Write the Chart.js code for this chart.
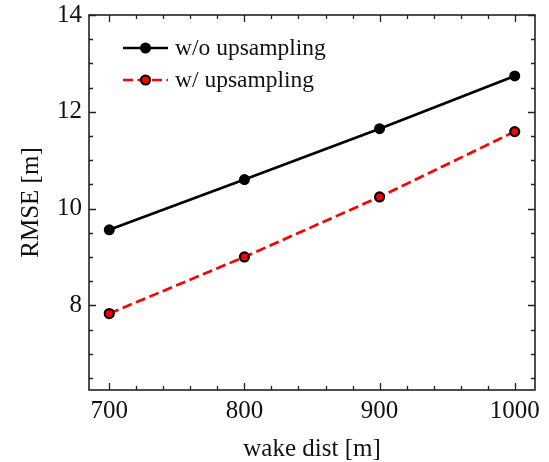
<!DOCTYPE html>
<html>
<head>
<meta charset="utf-8">
<script src="https://cdn.jsdelivr.net/npm/chart.js@4"></script>
<style>
  body { margin: 0; background: #fff; }
  #wrap { width: 549px; height: 462px; }
</style>
</head>
<body>
<div id="wrap"><canvas id="c" width="549" height="462"></canvas></div>
<script>
const wakeDist = [700, 800, 900, 1000];
const rmseNoUp = [9.56, 10.60, 11.65, 12.74];
const rmseUp = [7.83, 9.00, 10.24, 11.59];
const xTicks = [700, 800, 900, 1000];
const yTicks = [8, 10, 12, 14];
const seriesNames = ['w/o upsampling', 'w/ upsampling'];

const FONT = "'Liberation Serif', 'Times New Roman', serif";
const AXIS = '#222';

// inward ticks on all four sides + frame, and the legend with line+marker samples
const frameTicks = {
  id: 'frameTicks',
  afterDraw(chart) {
    const { ctx, chartArea: a, scales: { x, y } } = chart;
    ctx.save();
    ctx.strokeStyle = AXIS;
    ctx.lineWidth = 1.3;
    const tickX = (v, len) => {
      const px = Math.round(x.getPixelForValue(v)) + 0.5;
      ctx.beginPath();
      ctx.moveTo(px, a.bottom); ctx.lineTo(px, a.bottom - len);
      ctx.moveTo(px, a.top); ctx.lineTo(px, a.top + len);
      ctx.stroke();
    };
    const tickY = (v, len) => {
      const py = Math.round(y.getPixelForValue(v)) + 0.5;
      ctx.beginPath();
      ctx.moveTo(a.left, py); ctx.lineTo(a.left + len, py);
      ctx.moveTo(a.right, py); ctx.lineTo(a.right - len, py);
      ctx.stroke();
    };
    for (let v = 700; v <= 1000; v += 20) {
      tickX(v, v % 100 === 0 ? 7 : 4);
    }
    for (let v = 6.5; v <= 14; v += 0.5) {
      tickY(v, v % 2 === 0 ? 7 : 4);
    }
    ctx.lineWidth = 1.6;
    ctx.strokeRect(a.left, a.top, a.right - a.left, a.bottom - a.top);

    // legend
    chart.data.datasets.forEach((ds, i) => {
      const yy = a.top + 33 + i * 32;
      const x0 = a.left + 34, x1 = a.left + 79;
      ctx.beginPath();
      ctx.setLineDash(ds.borderDash || []);
      ctx.strokeStyle = ds.borderColor;
      ctx.lineWidth = ds.borderWidth;
      ctx.moveTo(x0, yy); ctx.lineTo(x1, yy);
      ctx.stroke();
      ctx.setLineDash([]);
      ctx.beginPath();
      ctx.arc((x0 + x1) / 2, yy, ds.pointRadius, 0, Math.PI * 2);
      ctx.fillStyle = ds.pointBackgroundColor;
      ctx.fill();
      if (ds.pointBorderWidth) {
        ctx.lineWidth = ds.pointBorderWidth;
        ctx.strokeStyle = ds.pointBorderColor;
        ctx.stroke();
      }
      ctx.fillStyle = '#111';
      ctx.font = '23.5px ' + FONT;
      ctx.textBaseline = 'middle';
      ctx.textAlign = 'left';
      ctx.fillText(ds.label, a.left + 86, yy + 1);
    });
    ctx.restore();
  }
};

new Chart(document.getElementById('c'), {
  type: 'scatter',
  data: {
    datasets: [
      {
        label: seriesNames[0],
        data: wakeDist.map((d, i) => ({ x: d, y: rmseNoUp[i] })),
        showLine: true,
        borderColor: '#000',
        borderWidth: 2.7,
        pointRadius: 5.5,
        pointBackgroundColor: '#000',
        pointBorderColor: '#000',
        pointBorderWidth: 0,
      },
      {
        label: seriesNames[1],
        data: wakeDist.map((d, i) => ({ x: d, y: rmseUp[i] })),
        showLine: true,
        borderColor: '#ff0000',
        borderWidth: 2.7,
        borderDash: [10, 4.5],
        pointRadius: 4.5,
        pointBackgroundColor: '#ff0000',
        pointBorderColor: '#000',
        pointBorderWidth: 2.2,
      },
    ],
  },
  options: {
    responsive: false,
    animation: false,
    layout: { padding: { top: 15, right: 14, left: 0, bottom: 0 } },
    plugins: { legend: { display: false }, tooltip: { enabled: false } },
    scales: {
      x: {
        type: 'linear',
        min: 685,
        max: 1015,
        grid: { display: false, drawTicks: false },
        border: { display: false },
        afterBuildTicks: (s) => { s.ticks = xTicks.map(v => ({ value: v })); },
        afterFit: (s) => { s.height = 72; s.paddingLeft = 0; s.paddingRight = 0; },
        ticks: { color: '#111', font: { family: FONT, size: 25 }, padding: 6, maxRotation: 0, callback: (v) => String(v) },
        title: { display: true, text: 'wake dist [m]', color: '#111', font: { family: FONT, size: 25 }, padding: { top: 0, bottom: -2 } },
      },
      y: {
        min: 6.25,
        max: 14,
        grid: { display: false, drawTicks: false },
        border: { display: false },
        afterBuildTicks: (s) => { s.ticks = yTicks.map(v => ({ value: v })); },
        afterFit: (s) => { s.width = 89; s.paddingTop = 0; s.paddingBottom = 0; },
        ticks: { color: '#111', font: { family: FONT, size: 25 }, padding: 7, callback: (v) => String(v) },
        title: { display: true, text: 'RMSE [m]', color: '#111', font: { family: FONT, size: 25 }, padding: { top: 16, bottom: 0 } },
      },
    },
  },
  plugins: [frameTicks],
});
</script>
</body>
</html>
